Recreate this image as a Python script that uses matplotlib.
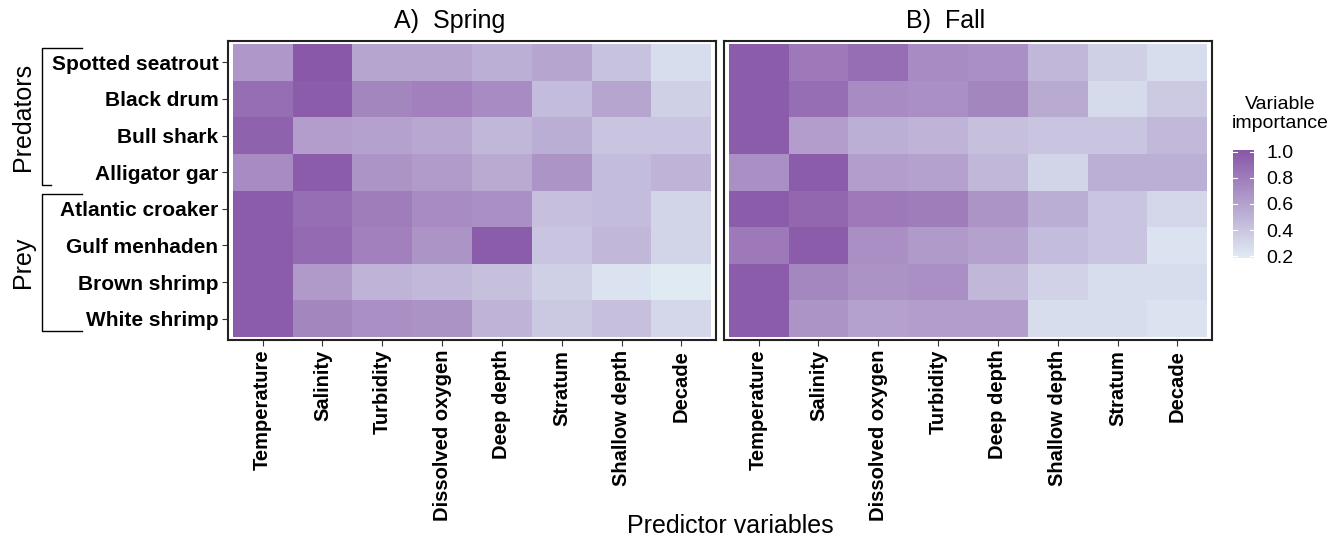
import numpy as np
import matplotlib
matplotlib.use("Agg")
import matplotlib.pyplot as plt
from matplotlib.colors import LinearSegmentedColormap, Normalize
from matplotlib.lines import Line2D

plt.rcParams['font.family'] = ['Liberation Sans', 'DejaVu Sans']

species = ["Spotted seatrout", "Black drum", "Bull shark", "Alligator gar",
           "Atlantic croaker", "Gulf menhaden", "Brown shrimp", "White shrimp"]

spring_vars = ["Temperature", "Salinity", "Turbidity", "Dissolved oxygen",
               "Deep depth", "Stratum", "Shallow depth", "Decade"]
fall_vars = ["Temperature", "Salinity", "Dissolved oxygen", "Turbidity",
             "Deep depth", "Shallow depth", "Stratum", "Decade"]

# variable importance, rows = species, cols = variables
spring_vals = [
    [0.65, 1.00, 0.58, 0.58, 0.52, 0.58, 0.42, 0.27],
    [0.88, 0.98, 0.75, 0.78, 0.72, 0.45, 0.58, 0.35],
    [0.95, 0.62, 0.60, 0.56, 0.48, 0.53, 0.40, 0.40],
    [0.72, 0.98, 0.67, 0.63, 0.55, 0.67, 0.45, 0.50],
    [0.98, 0.88, 0.80, 0.72, 0.70, 0.43, 0.45, 0.32],
    [0.98, 0.90, 0.78, 0.67, 0.98, 0.40, 0.48, 0.32],
    [0.98, 0.64, 0.50, 0.47, 0.43, 0.35, 0.24, 0.20],
    [0.98, 0.75, 0.70, 0.68, 0.50, 0.38, 0.43, 0.30],
]
fall_vals = [
    [0.98, 0.82, 0.88, 0.72, 0.70, 0.48, 0.35, 0.27],
    [0.98, 0.88, 0.72, 0.70, 0.75, 0.55, 0.28, 0.37],
    [0.98, 0.62, 0.52, 0.50, 0.43, 0.40, 0.40, 0.47],
    [0.70, 0.98, 0.62, 0.60, 0.48, 0.32, 0.52, 0.52],
    [0.98, 0.92, 0.82, 0.80, 0.67, 0.53, 0.40, 0.30],
    [0.82, 0.98, 0.70, 0.64, 0.60, 0.45, 0.40, 0.24],
    [0.98, 0.74, 0.68, 0.70, 0.48, 0.33, 0.27, 0.27],
    [0.98, 0.67, 0.60, 0.62, 0.62, 0.27, 0.27, 0.24],
]

panels = [("A)  Spring", spring_vars, spring_vals),
          ("B)  Fall", fall_vars, fall_vals)]

cmap = LinearSegmentedColormap.from_list("imp", ["#e0ecf4", "#8856a7"])
norm = Normalize(vmin=0.185, vmax=1.015)

W, H = 1336, 538
fig = plt.figure(figsize=(W / 100, H / 100), dpi=100)

axes_px = [(228, 41, 716, 340), (724, 41, 1212, 340)]
for i, (title, xvars, vals) in enumerate(panels):
    x0, y0, x1, y1 = axes_px[i]
    ax = fig.add_axes([x0 / W, 1 - y1 / H, (x1 - x0) / W, (y1 - y0) / H])
    ax.pcolormesh(np.arange(9) - 0.5, np.arange(9) - 0.5, np.array(vals),
                  cmap=cmap, norm=norm)
    ax.set_xlim(-0.58, 7.58)
    ax.set_ylim(7.58, -0.58)
    ax.set_xticks(range(8))
    ax.set_xticklabels(xvars, rotation=90, fontsize=14.5, fontweight='bold')
    if i == 0:
        ax.set_yticks(range(8))
        ax.set_yticklabels(species, fontsize=15, fontweight='bold')
    else:
        ax.set_yticks([])
    ax.tick_params(length=4, width=0.8, color='#333333', pad=3)
    for s in ax.spines.values():
        s.set_linewidth(1.5)
        s.set_color('#222222')
    fig.text((x0 + x1) / 2 / W - 22 / W, 1 - 21 / H, title,
             ha='center', va='center', fontsize=18)

fig.text(730 / W, 1 - 526 / H, "Predictor variables", ha='center', va='center', fontsize=18)

# group brackets
for label, ytop, ybot, xtop, xbot in [("Predators", 48, 185, 82, 51),
                                      ("Prey", 194, 331, 82, 82)]:
    xs = [xtop / W, 42 / W, 42 / W, xbot / W]
    ys = [1 - ytop / H, 1 - ytop / H, 1 - ybot / H, 1 - ybot / H]
    fig.add_artist(Line2D(xs, ys, color='black', lw=1.0))
    fig.text(23 / W, 1 - (ytop + ybot) / 2 / H, label, rotation=90,
             ha='center', va='center', fontsize=18)

# colorbar
cax = fig.add_axes([1233 / W, 1 - 258 / H, 21 / W, 108 / H])
cb = fig.colorbar(plt.cm.ScalarMappable(norm=norm, cmap=cmap), cax=cax,
                  ticks=[0.2, 0.4, 0.6, 0.8, 1.0])
cb.outline.set_visible(False)
cb.ax.tick_params(length=0, labelsize=14, pad=9)
for t in [0.2, 0.4, 0.6, 0.8, 1.0]:
    cax.axhline(t, xmin=0, xmax=0.2, color='white', lw=0.8)
    cax.axhline(t, xmin=0.8, xmax=1, color='white', lw=0.8)
cax.set_yticklabels(["0.2", "0.4", "0.6", "0.8", "1.0"])
fig.text(1280 / W, 1 - 114 / H, "Variable\nimportance", ha='center', va='center',
         fontsize=14, linespacing=1.15)

fig.savefig("out.png", dpi=100)
